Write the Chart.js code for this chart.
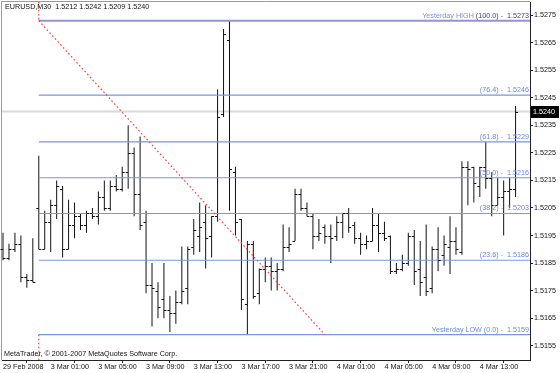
<!DOCTYPE html>
<html>
<head>
<meta charset="utf-8">
<title>EURUSD M30</title>
<script src="https://cdn.jsdelivr.net/npm/chart.js"></script>
<style>
  html, body { margin: 0; padding: 0; background: #fff; }
  #wrap { width: 560px; height: 373px; }
</style>
</head>
<body>
<div id="wrap"><canvas id="chart" width="560" height="373"></canvas></div>
<script>
// M30 bars (bar 0 = 29 Feb late session)
const opens = [1.5190,1.5187,1.5190,1.5192,1.5180,1.5179,1.5205,1.5190,1.5200,1.5206,
  1.5212,1.5190,1.5199,1.5202,1.5199,1.5203,1.5202,1.5209,1.5205,1.5213,
  1.5212,1.5218,1.5225,1.5210,1.5200,1.5177,1.5175,1.5172,1.5168,1.5167,
  1.5171,1.5176,1.5191,1.5195,1.5200,1.5195,1.5202,1.5239,1.5266,1.5218,
  1.5201,1.5170,1.5192,1.5174,1.5183,1.5184,1.5182,1.5183,1.5191,1.5193,
  1.5210,1.5205,1.5202,1.5195,1.5198,1.5195,1.5195,1.5200,1.5203,1.5199,
  1.5194,1.5192,1.5193,1.5199,1.5196,1.5195,1.5182,1.5183,1.5185,1.5195,
  1.5183,1.5180,1.5176,1.5190,1.5188,1.5191,1.5193,1.5189,1.5220,1.5220,
  1.5213,1.5220,1.5216,1.5206,1.5209,1.5211,1.5212];
const highs = [1.5196,1.5192,1.5196,1.5195,1.5181,1.5194,1.5224,1.5204,1.5208,1.5215,
  1.5213,1.5208,1.5207,1.5203,1.5204,1.5205,1.5211,1.5215,1.5215,1.5217,
  1.5220,1.5235,1.5227,1.5231,1.5204,1.5185,1.5178,1.5185,1.5173,1.5175,
  1.5191,1.5191,1.5201,1.5207,1.5206,1.5202,1.5248,1.5270,1.5273,1.5220,
  1.5201,1.5193,1.5193,1.5183,1.5187,1.5187,1.5185,1.5199,1.5198,1.5212,
  1.5212,1.5207,1.5203,1.5201,1.5199,1.5199,1.5202,1.5203,1.5205,1.5200,
  1.5196,1.5195,1.5205,1.5203,1.5200,1.5195,1.5185,1.5188,1.5196,1.5197,
  1.5193,1.5199,1.5191,1.5198,1.5195,1.5202,1.5198,1.5222,1.5222,1.5220,
  1.5220,1.5229,1.5218,1.5216,1.5215,1.5216,1.5242];
const lows = [1.5186,1.5186,1.5189,1.5178,1.5176,1.5178,1.5190,1.5190,1.5189,1.5201,
  1.5187,1.5190,1.5194,1.5197,1.5196,1.5201,1.5199,1.5204,1.5204,1.5211,
  1.5211,1.5212,1.5202,1.5197,1.5174,1.5162,1.5165,1.5165,1.5160,1.5163,
  1.5170,1.5170,1.5188,1.5189,1.5183,1.5187,1.5200,1.5238,1.5204,1.5195,
  1.5168,1.5159,1.5172,1.5170,1.5178,1.5175,1.5175,1.5182,1.5189,1.5193,
  1.5204,1.5202,1.5190,1.5193,1.5192,1.5185,1.5193,1.5194,1.5196,1.5192,
  1.5188,1.5190,1.5193,1.5189,1.5193,1.5181,1.5181,1.5182,1.5184,1.5177,
  1.5173,1.5173,1.5174,1.5182,1.5184,1.5181,1.5188,1.5188,1.5206,1.5207,
  1.5209,1.5212,1.5202,1.5206,1.5195,1.5205,1.5209];
const closes = [1.5187,1.5190,1.5192,1.5180,1.5179,1.5178,1.5190,1.5200,1.5206,1.5213,
  1.5190,1.5199,1.5202,1.5199,1.5203,1.5202,1.5209,1.5205,1.5213,1.5212,
  1.5218,1.5225,1.5210,1.5199,1.5177,1.5176,1.5169,1.5168,1.5167,1.5171,
  1.5175,1.5190,1.5197,1.5198,1.5194,1.5202,1.5238,1.5268,1.5219,1.5200,
  1.5172,1.5192,1.5173,1.5183,1.5184,1.5182,1.5183,1.5191,1.5192,1.5210,
  1.5205,1.5202,1.5195,1.5196,1.5195,1.5194,1.5200,1.5203,1.5198,1.5194,
  1.5192,1.5193,1.5199,1.5196,1.5194,1.5182,1.5183,1.5185,1.5195,1.5182,
  1.5178,1.5175,1.5190,1.5186,1.5192,1.5193,1.5190,1.5220,1.5219,1.5214,
  1.5220,1.5216,1.5206,1.5209,1.5211,1.5212,1.5240];

// time axis labels, one every 8 bars (4 hours)
const timeLabels = ['29 Feb 2008','3 Mar 01:00','3 Mar 05:00','3 Mar 09:00','3 Mar 13:00',
  '3 Mar 17:00','3 Mar 21:00','4 Mar 01:00','4 Mar 05:00','4 Mar 09:00','4 Mar 13:00'];
const timeLabelBars = [0, 8, 16, 24, 32, 40, 48, 56, 64, 72, 80];

// price axis
const priceTicks = [1.5155,1.5165,1.5175,1.5185,1.5195,1.5205,1.5215,1.5225,1.5235,1.5245,1.5255,1.5265,1.5275];
const priceMin = 1.51498;
const priceMax = 1.52798;
const barMin = -0.17;
const barMax = 88.42;

// fibonacci from yesterday's high/low
const fibLevels = [1.5273, 1.5246, 1.5229, 1.5216, 1.5203, 1.5186, 1.5159];
const fibNames = ['Yesterday HIGH (100.0)', '(76.4)', '(61.8)', '(50.0)', '(38.2)', '(23.6)', 'Yesterday LOW (0.0)'];
const fibStartBar = 6;
const fibEndBar = 54;

const symbol = 'EURUSD,M30';
const lastBid = closes[closes.length - 1];

const FONT = 'Liberation Sans, Arial, sans-serif';
const FIB_COLOR = '#7896e6';
const RED_DOTS = '#ff3a3a';

const barData = highs.map((h, i) => ({ x: i, y: [lows[i], h] }));

const fibDatasets = fibLevels.map((lv, i) => ({
  type: 'line',
  data: [{ x: fibStartBar, y: lv }, { x: barMax, y: lv }],
  borderColor: i === 0 ? '#9494cc' : FIB_COLOR,
  borderWidth: i === 0 ? 2.2 : 1.1,
  pointRadius: 0,
  order: 1
}));

function redDots(points) {
  return {
    type: 'line',
    data: points,
    borderColor: RED_DOTS,
    borderWidth: 1.2,
    borderDash: [1.6, 2.4],
    pointRadius: 0,
    order: 0
  };
}

// scale paddings would push the plot area in, MetaTrader has none
function noPad(scale) {
  scale.paddingTop = 0; scale.paddingBottom = 0;
  scale.paddingLeft = 0; scale.paddingRight = 0;
}

// open/close ticks + texts, drawn with the chart's own scales
const ohlcTicks = {
  id: 'ohlcTicks',
  beforeDraw(chart) {
    const { ctx, chartArea: a } = chart;
    ctx.save();
    ctx.strokeStyle = '#9a9a9a';
    ctx.lineWidth = 1;
    ctx.beginPath();
    ctx.moveTo(1.5, a.bottom);
    ctx.lineTo(1.5, 1.5);
    ctx.lineTo(a.right, 1.5);
    ctx.stroke();
    ctx.restore();
  },
  afterDatasetsDraw(chart) {
    const { ctx, scales: { x, y }, chartArea: a } = chart;
    ctx.save();
    ctx.strokeStyle = '#111';
    ctx.lineWidth = 1;
    ctx.beginPath();
    for (let i = 0; i < opens.length; i++) {
      const px = x.getPixelForValue(i);
      const yo = Math.round(y.getPixelForValue(opens[i])) + 0.5;
      const yc = Math.round(y.getPixelForValue(closes[i])) + 0.5;
      ctx.moveTo(px - 2.5, yo); ctx.lineTo(px, yo);
      ctx.moveTo(px, yc); ctx.lineTo(px + 2.5, yc);
    }
    ctx.stroke();

    // fib level captions
    ctx.font = '7.2px ' + FONT;
    ctx.textAlign = 'right';
    ctx.textBaseline = 'alphabetic';
    fibLevels.forEach((lv, i) => {
      const py = y.getPixelForValue(lv) - 3;
      const val = ' -  ' + lv.toFixed(4);
      if (i === 0) {
        ctx.fillStyle = '#3c4496';
        const w = ctx.measureText('(100.0)' + val).width;
        ctx.fillText('(100.0)' + val, a.right - 1, py);
        ctx.fillStyle = '#7a92e0';
        ctx.fillText('Yesterday HIGH ', a.right - 1 - w, py);
      } else {
        ctx.fillStyle = '#6a86e0';
        ctx.fillText(fibNames[i] + val, a.right - 1, py);
      }
    });

    // header and copyright
    ctx.fillStyle = '#111';
    ctx.textAlign = 'left';
    ctx.textBaseline = 'middle';
    const last = opens.length - 1;
    ctx.fillText(symbol + '  ' + [opens[last], highs[last], lows[last], closes[last]].map(v => v.toFixed(4)).join(' '), 5, 7.5);
    ctx.fillText('MetaTrader, \u00a9 2001-2007 MetaQuotes Software Corp.', 4, 354);

    // bid label on the price axis
    const by = Math.round(y.getPixelForValue(lastBid));
    ctx.fillStyle = '#000';
    ctx.fillRect(a.right + 1, by - 6, 28, 12);
    ctx.fillStyle = '#fff';
    ctx.fillText(lastBid.toFixed(4), a.right + 3, by);
    ctx.restore();
  }
};

const ctx = document.getElementById('chart').getContext('2d');
new Chart(ctx, {
  type: 'bar',
  data: {
    datasets: [
      {
        type: 'line',
        data: [{ x: barMin, y: lastBid }, { x: barMax, y: lastBid }],
        borderColor: '#d9d9d9',
        borderWidth: 2,
        pointRadius: 0,
        order: 5
      },
      {
        type: 'bar',
        data: barData,
        backgroundColor: '#111',
        borderWidth: 0,
        barThickness: 1,
        inflateAmount: 0,
        grouped: false,
        order: 3
      },
      ...fibDatasets,
      redDots([{ x: fibStartBar, y: fibLevels[0] }, { x: fibEndBar, y: fibLevels[6] }]),
      redDots([{ x: fibStartBar, y: priceMax }, { x: fibStartBar, y: fibLevels[0] }]),
      redDots([{ x: fibStartBar, y: fibLevels[6] }, { x: fibStartBar, y: priceMin }])
    ]
  },
  options: {
    responsive: false,
    animation: false,
    devicePixelRatio: 1,
    layout: { padding: { left: 2, top: 2, right: 0, bottom: 0 } },
    plugins: { legend: { display: false }, tooltip: { enabled: false } },
    scales: {
      x: {
        type: 'linear',
        min: barMin,
        max: barMax,
        offset: false,
        border: { display: true, color: '#222', width: 1 },
        grid: { display: true, drawOnChartArea: false, drawTicks: true, tickLength: 3, color: '#222' },
        afterBuildTicks: (scale) => { scale.ticks = timeLabelBars.map(v => ({ value: v })); },
        afterFit: (scale) => { scale.height = 13; noPad(scale); },
        ticks: {
          autoSkip: false,
          maxRotation: 0,
          align: 'start',
          padding: 0,
          color: '#111',
          font: { family: FONT, size: 7.2 },
          callback: (v) => timeLabels[timeLabelBars.indexOf(v)]
        }
      },
      y: {
        position: 'right',
        min: priceMin,
        max: priceMax,
        border: { display: true, color: '#222', width: 1 },
        grid: { display: true, drawOnChartArea: false, drawTicks: true, tickLength: 3, color: '#222' },
        afterBuildTicks: (scale) => { scale.ticks = priceTicks.map(v => ({ value: v })); },
        afterFit: (scale) => { scale.width = 30; noPad(scale); },
        ticks: {
          padding: 1,
          color: '#111',
          font: { family: FONT, size: 7.2 },
          callback: (v) => v.toFixed(4)
        }
      }
    }
  },
  plugins: [ohlcTicks]
});
</script>
</body>
</html>
